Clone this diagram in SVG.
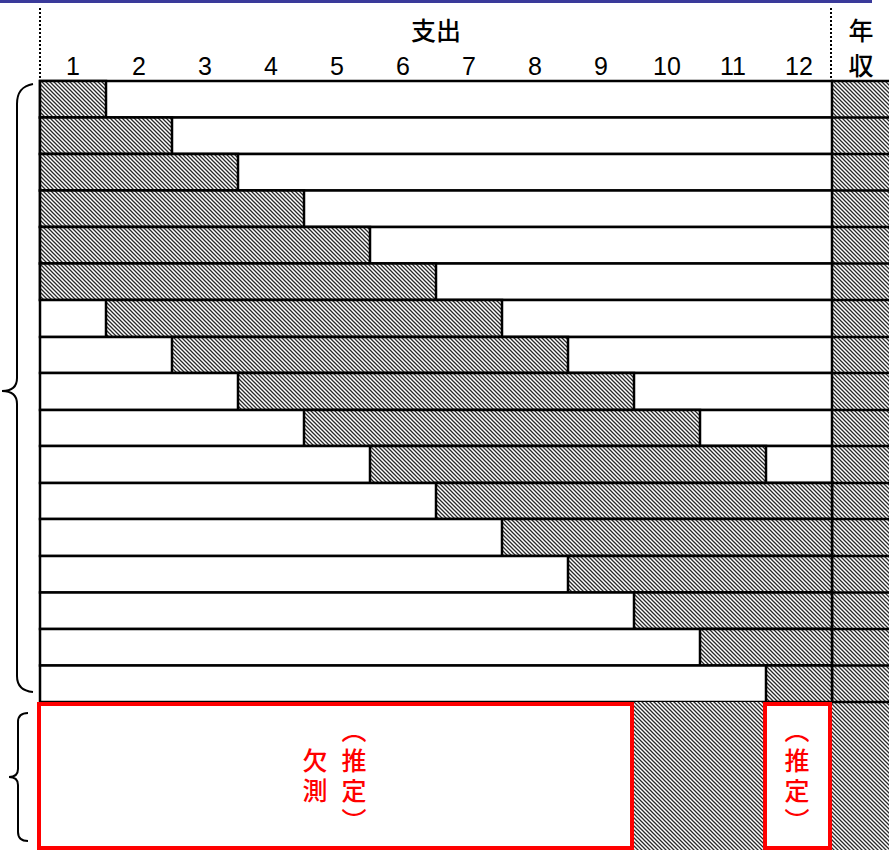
<svg xmlns="http://www.w3.org/2000/svg" width="889" height="850" viewBox="0 0 889 850">
<defs>
<pattern id="h" width="4" height="4" patternUnits="userSpaceOnUse"><rect width="4" height="4" fill="#fff"/><path d="M-1,-1L5,5M-1,3L1,5M3,-1L5,1" stroke="#2a2a2a" stroke-width="1.3"/></pattern>
</defs>
<style>
.row{fill:#fff;stroke:#000;stroke-width:2.5}
.ht{fill:url(#h);stroke:#000;stroke-width:2.5}
.hb{fill:url(#h);stroke:none}
.num{font-family:"Liberation Sans",Arial,sans-serif;font-size:25px;fill:#000;text-anchor:middle}
.jp{font-family:"Noto Sans CJK JP","Noto Sans",sans-serif;font-size:25px;font-weight:500;fill:#000;text-anchor:middle}
.rv{font-family:"Noto Sans CJK JP","Noto Sans",sans-serif;font-size:25px;font-weight:500;fill:#f00;writing-mode:vertical-rl;letter-spacing:5px}
.dot{stroke:#000;stroke-width:2;stroke-dasharray:2 2;fill:none}
.ln{stroke:#000;stroke-width:2.5;fill:none}
.br{stroke:#000;stroke-width:2;fill:none}
.red{fill:#fff;stroke:#f00;stroke-width:4}
</style>
<rect x="0" y="0" width="872" height="3" fill="#3a3a9a"/>
<g id="header">
<text class="jp" x="436" y="40">支出</text>
<text class="num" x="73" y="75">1</text>
<text class="num" x="139" y="75">2</text>
<text class="num" x="205" y="75">3</text>
<text class="num" x="271" y="75">4</text>
<text class="num" x="337" y="75">5</text>
<text class="num" x="403" y="75">6</text>
<text class="num" x="469" y="75">7</text>
<text class="num" x="535" y="75">8</text>
<text class="num" x="601" y="75">9</text>
<text class="num" x="667" y="75">10</text>
<text class="num" x="733" y="75">11</text>
<text class="num" x="799" y="75">12</text>
<text class="jp" x="861" y="40">年</text>
<text class="jp" x="861" y="75">収</text>
<line class="dot" x1="40" y1="8" x2="40" y2="81"/>
<line class="dot" x1="831" y1="8" x2="831" y2="81"/>
</g>
<g id="year-column">
<rect class="hb" x="832" y="81" width="57" height="769"/>
<path class="ln" d="M831,81V702M831,81H889M831,117.5H889M831,154H889M831,190.5H889M831,227H889M831,263.5H889M831,300H889M831,337H889M831,373H889M831,410H889M831,446H889M831,483H889M831,519H889M831,556H889M831,592.5H889M831,629H889M831,665.5H889M831,702H889"/>
</g>
<g id="row1"><rect class="row" x="40" y="81" width="792" height="36.5"/><rect class="ht" x="40" y="81" width="66" height="36.5"/></g>
<g id="row2"><rect class="row" x="40" y="117.5" width="792" height="36.5"/><rect class="ht" x="40" y="117.5" width="132" height="36.5"/></g>
<g id="row3"><rect class="row" x="40" y="154" width="792" height="36.5"/><rect class="ht" x="40" y="154" width="198" height="36.5"/></g>
<g id="row4"><rect class="row" x="40" y="190.5" width="792" height="36.5"/><rect class="ht" x="40" y="190.5" width="264" height="36.5"/></g>
<g id="row5"><rect class="row" x="40" y="227" width="792" height="36.5"/><rect class="ht" x="40" y="227" width="330" height="36.5"/></g>
<g id="row6"><rect class="row" x="40" y="263.5" width="792" height="36.5"/><rect class="ht" x="40" y="263.5" width="396" height="36.5"/></g>
<g id="row7"><rect class="row" x="40" y="300" width="792" height="37"/><rect class="ht" x="106" y="300" width="396" height="37"/></g>
<g id="row8"><rect class="row" x="40" y="337" width="792" height="36"/><rect class="ht" x="172" y="337" width="396" height="36"/></g>
<g id="row9"><rect class="row" x="40" y="373" width="792" height="37"/><rect class="ht" x="238" y="373" width="396" height="37"/></g>
<g id="row10"><rect class="row" x="40" y="410" width="792" height="36"/><rect class="ht" x="304" y="410" width="396" height="36"/></g>
<g id="row11"><rect class="row" x="40" y="446" width="792" height="37"/><rect class="ht" x="370" y="446" width="396" height="37"/></g>
<g id="row12"><rect class="row" x="40" y="483" width="792" height="36"/><rect class="ht" x="436" y="483" width="396" height="36"/></g>
<g id="row13"><rect class="row" x="40" y="519" width="792" height="37"/><rect class="ht" x="502" y="519" width="330" height="37"/></g>
<g id="row14"><rect class="row" x="40" y="556" width="792" height="36.5"/><rect class="ht" x="568" y="556" width="264" height="36.5"/></g>
<g id="row15"><rect class="row" x="40" y="592.5" width="792" height="36.5"/><rect class="ht" x="634" y="592.5" width="198" height="36.5"/></g>
<g id="row16"><rect class="row" x="40" y="629" width="792" height="36.5"/><rect class="ht" x="700" y="629" width="132" height="36.5"/></g>
<g id="row17"><rect class="row" x="40" y="665.5" width="792" height="36.5"/><rect class="ht" x="766" y="665.5" width="66" height="36.5"/></g>
<g id="bottom">
<rect class="hb" x="632" y="702" width="134" height="148"/>
<g id="missing-box">
<rect class="red" x="39" y="704" width="593" height="144"/>
<text class="rv" x="315" y="748">欠測</text>
<text class="rv" x="354" y="718">（推定）</text>
</g>
<g id="estimate-box">
<rect class="red" x="765" y="704" width="65" height="144"/>
<text class="rv" x="797" y="718">（推定）</text>
</g>
</g>
<g id="braces">
<path class="br" d="M33,84C22,86 17,92 17,104L17,378C17,387 12,391 2,391C12,391 17,395 17,404L17,676C17,686 22,691 33,692"/>
<path class="br" d="M28,713C22,713 18,716 18,722L18,769C18,775 14,777 9,777C14,777 18,779 18,785L18,832C18,838 22,841 28,841"/>
</g>
</svg>
